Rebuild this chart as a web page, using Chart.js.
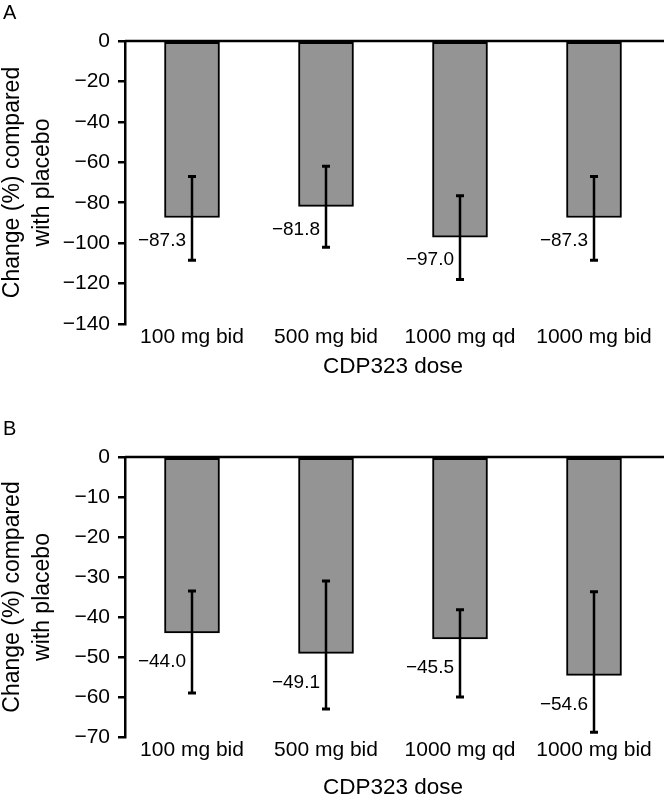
<!DOCTYPE html>
<html>
<head>
<meta charset="utf-8">
<script src="https://cdn.jsdelivr.net/npm/chart.js@4.4.1/dist/chart.umd.min.js"></script>
<style>
    body { margin: 0; background: #fff; width: 664px; height: 799px; position: relative; overflow: hidden; font-family: "Liberation Sans", Arial, sans-serif; }
    canvas { position: absolute; left: 0; }
    .letra { position: absolute; left: 3px; font-size: 20px; line-height: 20px; color: #000; }
</style>
</head>
<body>
<canvas id="graficoA" width="664" height="400" style="top:0"></canvas>
<canvas id="graficoB" width="664" height="399" style="top:400px"></canvas>
<div class="letra" style="top:2px">A</div>
<div class="letra" style="top:418px">B</div>
<script>
const categorias = ["100 mg bid", "500 mg bid", "1000 mg qd", "1000 mg bid"];

// Panel A
const valoresA = [-87.3, -81.8, -97.0, -87.3];
const errorSupA = [-67, -62, -76.5, -67];
const errorInfA = [-108.5, -102, -118, -108.5];
const minA = -140, pasoA = 20;

// Panel B
const valoresB = [-44.0, -49.1, -45.5, -54.6];
const errorSupB = [-33.5, -31, -38.2, -33.7];
const errorInfB = [-59, -63, -60, -68.8];
const minB = -70, pasoB = 10;

const tituloX = "CDP323 dose";
const tituloY = ["Change (%) compared", "with placebo"];

const fuente = "'Liberation Sans', Arial, sans-serif";

function menos(v) {
    return v === 0 ? "0" : "\u2212" + Math.abs(v);
}

function formatearValor(v) {
    return (v < 0 ? "\u2212" : "") + Math.abs(v).toFixed(1);
}

// barras de error, linea del cero y etiquetas de valor
function crearExtras(valores, sup, inf, desfase) {
    return {
        id: "extras",
        afterDatasetsDraw(chart) {
            const { ctx, chartArea, scales: { x, y } } = chart;
            ctx.save();
            ctx.strokeStyle = "#000";
            ctx.fillStyle = "#000";
            ctx.lineWidth = 2.5;

            const y0 = y.getPixelForValue(0);
            ctx.beginPath();
            ctx.moveTo(chartArea.left, y0);
            ctx.lineTo(chart.width, y0);
            ctx.stroke();

            ctx.font = "19px " + fuente;
            ctx.textAlign = "right";
            ctx.textBaseline = "middle";

            valores.forEach((v, i) => {
                const cx = x.getPixelForValue(i);
                const ys = y.getPixelForValue(sup[i]);
                const yi = y.getPixelForValue(inf[i]);
                ctx.lineWidth = 2.5;
                ctx.beginPath();
                ctx.moveTo(cx, ys);
                ctx.lineTo(cx, yi);
                ctx.stroke();
                ctx.lineWidth = 3;
                ctx.beginPath();
                ctx.moveTo(cx - 4, ys);
                ctx.lineTo(cx + 4, ys);
                ctx.moveTo(cx - 4, yi);
                ctx.lineTo(cx + 4, yi);
                ctx.stroke();

                ctx.fillText(formatearValor(v), cx - 6, y.getPixelForValue(v) + desfase);
            });
            ctx.restore();
        }
    };
}

function crearGrafico(id, valores, sup, inf, minimo, paso, cfg) {
    const ctx = document.getElementById(id).getContext("2d");
    return new Chart(ctx, {
        type: "bar",
        data: {
            labels: categorias,
            datasets: [{
                data: valores,
                backgroundColor: "#949494",
                borderColor: "#000",
                borderWidth: 2,
                borderSkipped: false,
                barThickness: 55
            }]
        },
        options: {
            responsive: false,
            animation: false,
            devicePixelRatio: 1,
            layout: { padding: { top: cfg.arriba, right: 3, left: 0, bottom: 0 } },
            plugins: {
                legend: { display: false },
                tooltip: { enabled: false }
            },
            scales: {
                x: {
                    grid: { display: false, drawTicks: false, tickLength: 0 },
                    border: { display: false },
                    ticks: {
                        color: "#000",
                        padding: 1,
                        maxRotation: 0,
                        autoSkip: false,
                        font: { family: fuente, size: 21 }
                    },
                    title: {
                        display: true,
                        text: tituloX,
                        color: "#000",
                        font: { family: fuente, size: 22.5, lineHeight: 1 },
                        padding: { top: 0, bottom: cfg.tituloAbajo }
                    },
                    afterFit: s => { s.height = cfg.altoX; }
                },
                y: {
                    min: minimo,
                    max: 0,
                    grid: {
                        drawOnChartArea: false,
                        drawTicks: true,
                        tickLength: 7,
                        color: "#000",
                        lineWidth: 2.5
                    },
                    border: { display: true, color: "#000", width: 2.5 },
                    ticks: {
                        stepSize: paso,
                        color: "#000",
                        padding: 8,
                        font: { family: fuente, size: 21 },
                        callback: v => menos(v)
                    },
                    title: {
                        display: true,
                        text: tituloY,
                        color: "#000",
                        font: { family: fuente, size: 23, lineHeight: 1.3 },
                        padding: { top: -2.5, bottom: 0 }
                    },
                    afterFit: s => { s.width = 125; }
                }
            }
        },
        plugins: [crearExtras(valores, sup, inf, cfg.desfase)]
    });
}

window.addEventListener("DOMContentLoaded", () => {
    crearGrafico("graficoA", valoresA, errorSupA, errorInfA, minA, pasoA,
        { arriba: 41, altoX: 76, tituloAbajo: 22, desfase: 23 });
    crearGrafico("graficoB", valoresB, errorSupB, errorInfB, minB, pasoB,
        { arriba: 57, altoX: 62, tituloAbajo: 0, desfase: 29 });
});
</script>
</body>
</html>
